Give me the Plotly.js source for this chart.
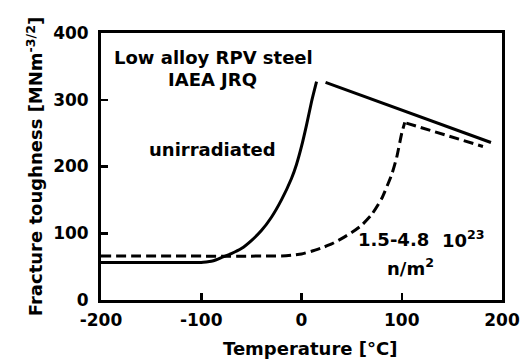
<!DOCTYPE html>
<html>
<head>
<meta charset="utf-8">
<script src="https://cdn.plot.ly/plotly-3.0.1.min.js"></script>
<style>html,body{margin:0;padding:0;background:#fff;}#chart{width:523px;height:361px;}</style>
</head>
<body>
<div id="chart"></div>
<script>
// Unirradiated (solid) transition curve
const unirrT = [-200, -110, -100, -95, -90, -85, -80, -70, -60, -50, -40, -30, -20, -10, -5, 0, 5, 10, 15];
const unirrK = [56, 56, 56.3, 57, 58, 60.3, 63.5, 69.5, 77, 89, 104, 124, 150, 182, 203, 230, 262, 297, 327];
// Unirradiated upper shelf (solid line)
const unirrShelfT = [24, 189];
const unirrShelfK = [326, 236];
// Irradiated 1.5-4.8e23 n/m2 (dashed) transition curve
const irrT = [-200, -20, -10, 0, 10, 20, 30, 40, 50, 60, 70, 80, 90, 95, 100, 103];
const irrK = [66, 66, 67, 69, 73, 78, 84, 92, 101, 112, 128, 152, 188, 214, 250, 266];
// Irradiated upper shelf (dashed line)
const irrShelfT = [104.6, 181];
const irrShelfK = [265, 230];

const xTicks = [-200, -100, 0, 100, 200];
const yTicks = [0, 100, 200, 300, 400];

const FONT = 'DejaVu Sans, Verdana, sans-serif';
const solid = {color: '#000', width: 3, dash: 'solid'};
const dashed = {color: '#000', width: 3, dash: '10px,5px'};

const traces = [
  {x: unirrT, y: unirrK, mode: 'lines', line: Object.assign({shape: 'spline', smoothing: 0.5}, solid), hoverinfo: 'skip'},
  {x: unirrShelfT, y: unirrShelfK, mode: 'lines', line: solid, hoverinfo: 'skip'},
  {x: irrT, y: irrK, mode: 'lines', line: Object.assign({shape: 'spline', smoothing: 0.5}, dashed), hoverinfo: 'skip'},
  {x: irrShelfT, y: irrShelfK, mode: 'lines', line: dashed, hoverinfo: 'skip'}
];

const annFont = {family: FONT, size: 18, color: '#000', weight: 'bold'};
const layout = {
  width: 523, height: 361,
  margin: {l: 101, r: 21, t: 33, b: 61},
  paper_bgcolor: '#fff', plot_bgcolor: '#fff',
  showlegend: false,
  font: {family: FONT, color: '#000', weight: 'bold'},
  xaxis: {
    range: [-200, 200], tickvals: xTicks, ticktext: xTicks.map(String),
    ticks: 'inside', ticklen: 7, tickwidth: 2.5, tickcolor: '#000',
    showline: true, linewidth: 3, linecolor: '#000', mirror: true,
    showgrid: false, zeroline: false,
    ticklabelposition: 'outside', ticklabelstandoff: 3,
    tickfont: {family: FONT, size: 17, color: '#000', weight: 'bold'}
  },
  yaxis: {
    range: [0, 400], tickvals: yTicks, ticktext: yTicks.map(v => String(v) + '\u00a0'),
    ticks: 'inside', ticklen: 7, tickwidth: 2.5, tickcolor: '#000',
    showline: true, linewidth: 3, linecolor: '#000', mirror: true,
    showgrid: false, zeroline: false,
    tickfont: {family: FONT, size: 17, color: '#000', weight: 'bold'},
    title: {text: 'Fracture toughness [MNm<sup>-3/2</sup>]', font: {family: FONT, size: 18, color: '#000', weight: 'bold'}, standoff: 6}
  },
  annotations: [
    {x: 0.52, y: -0.18, xref: 'paper', yref: 'paper', yanchor: 'middle', text: 'Temperature [°C]', showarrow: false, font: annFont},
    {x: -88, y: 363, xref: 'x', yref: 'y', text: 'Low alloy RPV steel', showarrow: false, font: annFont},
    {x: -89, y: 330, xref: 'x', yref: 'y', text: 'IAEA JRQ', showarrow: false, font: annFont},
    {x: -88.5, y: 225, xref: 'x', yref: 'y', text: 'unirradiated', showarrow: false, font: annFont},
    {x: 92, y: 90.7, xref: 'x', yref: 'y', text: '1.5-4.8', showarrow: false, font: annFont},
    {x: 138, y: 90.7, xref: 'x', yref: 'y', xanchor: 'left', text: '10<sup>23</sup>', showarrow: false, font: annFont},
    {x: 83, y: 49, xref: 'x', yref: 'y', xanchor: 'left', text: 'n/m<sup>2</sup>', showarrow: false, font: annFont}
  ]
};

Plotly.newPlot('chart', traces, layout, {displayModeBar: false, staticPlot: true});
</script>
</body>
</html>
